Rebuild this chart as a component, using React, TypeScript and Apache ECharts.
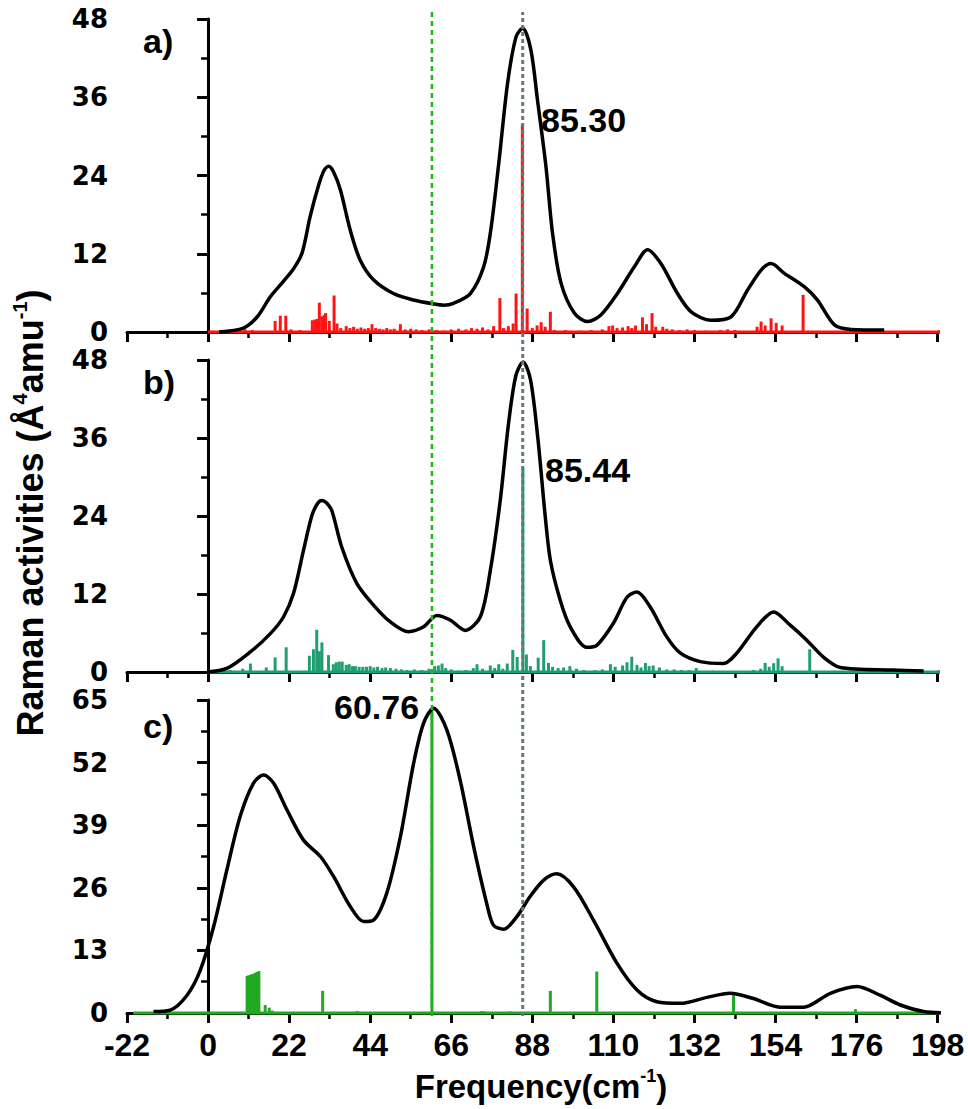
import React, { useEffect, useRef } from "react";
import * as echarts from "echarts";

// ---------- axis definitions ----------
const xMin = -22;
const xMax = 198;
const xInterval = 22;
const axisEndX = 202.8;
const yMaxA = 48;
const yMaxB = 48;
const yMaxC = 65;
const yIntervalAB = 12;
const yIntervalC = 13;

// ---------- panel a ----------
const curveAX = [3, 9.6, 13.3, 16.9, 20.5, 23.2, 25.5, 27.7, 30, 31.5, 32.7, 34, 35.9, 38.6, 41.3, 44.9, 50.3, 55.8, 61.2, 64, 66.6, 71.2, 74.8, 76.7, 79, 81.3, 83.6, 85.4, 87.6, 89.4, 91.7, 93.5, 95.8, 99.4, 103, 106.6, 111.1, 115.7, 119.3, 122.9, 127.4, 131.1, 136.5, 141.9, 146.4, 150.1, 152.8, 156.4, 161.8, 165.4, 170, 174.5, 183.5];
const curveAY = [0, 0.6, 2.3, 5.4, 7.8, 9.7, 12.1, 17.7, 22.5, 24.8, 25.4, 24.6, 21.8, 15.6, 11, 8, 5.9, 4.9, 4.3, 4.1, 4.4, 5.9, 10, 15.5, 26.4, 38.2, 45.3, 46.6, 43.3, 35.6, 25.4, 15.1, 7.5, 2.9, 1.6, 2.6, 5.9, 10, 12.6, 10.5, 5.9, 3.1, 1.8, 2.3, 6.4, 9.5, 10.5, 9, 6.95, 4.9, 1.1, 0.4, 0.3];
const stickAX = [1.5, 4, 7, 10, 12, 18.2, 19.6, 21.1, 22.5, 25, 28.3, 29, 29.6, 30.2, 30.9, 31.5, 31.9, 32.9, 34.2, 35, 36, 37.5, 38.5, 39.5, 40.5, 41.5, 42.5, 43.5, 44.5, 45.5, 46.5, 47.5, 48.5, 49.5, 50.5, 52.2, 53.5, 55, 56.5, 58, 60, 62, 64, 66, 68, 70, 71.5, 73, 74.5, 76, 77.5, 79.2, 80.2, 81.5, 82.8, 83.6, 85.3, 86.6, 88, 89.3, 90.4, 91.5, 92.9, 94, 97, 101, 104, 107, 108.8, 109.8, 111, 112.5, 114, 115, 116, 117.9, 119, 120.5, 121.5, 123.4, 124.5, 126, 128, 130, 132, 135, 139, 141, 143, 149, 150.1, 151.2, 152.8, 154.2, 155.8, 161.5];
const stickAY = [0.2, 0.3, 0.3, 0.4, 0.3, 1.7, 2.5, 2.5, 0.4, 0.3, 1.8, 1.9, 2.0, 4.5, 2.4, 2.6, 2.9, 1.7, 5.6, 1.3, 0.6, 0.9, 0.6, 0.8, 0.5, 0.7, 0.5, 0.6, 1.2, 0.6, 0.5, 0.4, 0.6, 0.4, 0.5, 1.2, 0.4, 0.5, 0.4, 0.3, 0.4, 0.3, 0.2, 0.4, 0.5, 0.4, 0.6, 0.5, 0.7, 0.4, 0.9, 5.2, 0.6, 0.9, 1.3, 5.9, 31.8, 3.6, 0.6, 1.0, 1.5, 0.8, 3.1, 0.3, 0.3, 0.2, 0.3, 0.4, 0.9, 1.0, 0.6, 0.7, 0.9, 0.6, 1.0, 2.25, 1.2, 2.9, 0.8, 0.8, 0.5, 0.4, 0.3, 0.4, 0.3, 0.2, 0.3, 0.4, 0.3, 0.8, 1.6, 1.0, 2.1, 1.4, 1.0, 5.7];

// ---------- panel b ----------
const curveBX = [-0.3, 5.1, 11.5, 16.9, 20.5, 23.2, 25.9, 28.2, 29.8, 30.9, 32.2, 33.6, 36.3, 40.4, 44.9, 49.5, 54.4, 58.5, 62.1, 65.7, 69.8, 73.9, 76.6, 79.3, 81.5, 83.5, 85.5, 87.5, 89.5, 91.5, 92.9, 95.6, 98.3, 102.8, 105.5, 110, 113.7, 116.4, 120, 124.5, 128.2, 133.6, 139.9, 143.5, 148.9, 153.5, 158, 162.5, 167, 171.6, 186, 194.2];
const curveBY = [0, 0.55, 3.1, 5.9, 8.5, 12.1, 18.7, 24.1, 26, 26.4, 26, 24.8, 19.2, 13.6, 10.3, 7.7, 6.2, 6.95, 8.7, 8, 6.4, 8.5, 15.6, 26.4, 38, 45.5, 47.7, 45, 36, 24, 17.2, 11, 6.95, 3.8, 4.1, 7.5, 11.5, 12.3, 10, 5.4, 2.9, 1.6, 1.3, 2.9, 6.95, 9.25, 7.2, 4.9, 2.3, 0.7, 0.3, 0.15];
const stickBX = [3, 6, 9.4, 11.5, 15.8, 18.2, 21.2, 27.5, 28.6, 29.5, 30.2, 30.9, 32.7, 34, 34.8, 35.6, 36.4, 37.5, 38.3, 39.2, 40, 41, 42, 43, 44, 45, 46, 47.2, 48.2, 49.5, 51, 52.5, 54, 56, 58, 60, 61.5, 62.5, 63.5, 64.5, 66, 68, 70, 72, 73, 74.5, 76.6, 77.8, 78.9, 80, 81.2, 82.7, 83.9, 85.44, 86.4, 87.5, 89.6, 91.1, 92.4, 93.5, 95, 96.5, 98.2, 100, 102, 105, 107, 109.2, 110.5, 112.5, 113.7, 115, 116.4, 117.5, 118.7, 119.7, 120.8, 122.5, 124.5, 126.5, 128.5, 130.5, 132.5, 137, 148, 150, 151.2, 152.3, 153.5, 154.7, 155.8, 163.3, 170, 177];
const stickBY = [0.2, 0.3, 0.5, 1.3, 0.7, 2.25, 3.8, 2.5, 3.5, 6.5, 3.2, 4.55, 2.6, 1.2, 1.5, 1.6, 1.6, 1.1, 1.2, 0.9, 0.9, 0.8, 0.8, 0.8, 0.9, 0.7, 0.8, 0.6, 0.7, 0.6, 0.5, 0.4, 0.3, 0.4, 0.3, 0.5, 0.9, 1.0, 1.3, 0.6, 0.4, 0.2, 0.3, 0.6, 1.2, 0.5, 1.0, 0.6, 1.2, 0.5, 1.3, 3.4, 2.3, 31.4, 2.7, 0.9, 2.2, 4.9, 1.4, 0.8, 0.6, 0.7, 0.9, 0.5, 0.3, 0.3, 0.4, 1.2, 0.8, 1.0, 1.5, 2.35, 1.1, 0.7, 1.4, 0.9, 1.0, 0.7, 0.4, 0.4, 0.3, 0.3, 0.6, 0.2, 0.3, 0.5, 1.4, 0.8, 1.35, 2.1, 0.9, 3.5, 0.2, 0.3];

// ---------- panel c ----------
const curveCX = [-14.8, -10.3, -5.7, -2.1, 1.5, 5.1, 8.7, 12.3, 15.1, 17.8, 21.4, 25.9, 30.5, 34.1, 38.6, 42.2, 44.9, 48.5, 52.2, 55.8, 58.5, 61.2, 64.8, 68.4, 72.1, 75.7, 77.5, 80.2, 83.8, 87.4, 91.1, 94.6, 99.2, 104.6, 111, 116.4, 121.8, 128.2, 135.4, 141.7, 148, 155.2, 161.6, 168.9, 176.1, 182.4, 187.9, 194.2, 200.5];
const curveCY = [0.3, 0.6, 3.7, 8.9, 17.9, 29.7, 40.8, 47.7, 49.4, 47.7, 42.2, 35.9, 32.5, 28.3, 22.1, 19, 19.3, 24.9, 36.6, 51.9, 60.2, 63.3, 58.8, 48.4, 34.5, 22.5, 18.2, 17.4, 20, 24.2, 27.6, 28.9, 26.2, 19.3, 10.3, 4.8, 2.35, 2, 3.25, 4.1, 3, 1.2, 1.2, 4.1, 5.5, 3.7, 1.66, 0.3, 0];
const stickCX = [10.6, 11.0, 11.4, 11.8, 12.2, 12.6, 13.0, 13.4, 13.8, 15.5, 16.6, 17.4, 31.1, 40.5, 60.76, 74.3, 75, 82, 92.9, 105.5, 142.6, 175.7];
const stickCY = [7.7, 7.8, 7.9, 8.0, 8.1, 8.2, 8.4, 8.5, 8.7, 1.66, 1.1, 0.5, 4.6, 0.4, 63, 0.4, 0.3, 0.3, 4.6, 8.6, 3.7, 0.8];

// ---------- reference lines & labels ----------
const refGreenX = 60.76;
const refGrayX = 85.4;
const baseStartAB = 0;
const baseStartC = -20.3;
const baseEnd = 202;
const peakLabelA = "85.30";
const peakLabelB = "85.44";
const peakLabelC = "60.76";

const zip = (xs: number[], ys: number[]) => xs.map((x, i) => [x, ys[i]]);

const GRID_LEFT = 127;
const GRID_WIDTH = 810.6;
const PANELS = [
  { top: 19, height: 313 },
  { top: 360, height: 312 },
  { top: 700, height: 313 },
];

const ARIAL = "'Liberation Sans', Arial, sans-serif";

function makeXAxis(i: number, showLabels: boolean) {
  return {
    type: "value",
    gridIndex: i,
    min: xMin,
    max: xMax,
    interval: xInterval,
    axisLine: { show: true, onZero: false, lineStyle: { color: "#000", width: 3 } },
    axisTick: { show: true, inside: false, length: 10, lineStyle: { color: "#000", width: 3 } },
    minorTick: { show: true, splitNumber: 2, length: 6, lineStyle: { color: "#000", width: 2.5 } },
    splitLine: { show: false },
    minorSplitLine: { show: false },
    axisLabel: {
      show: showLabels,
      margin: 16,
      color: "#000",
      fontFamily: ARIAL,
      fontWeight: "bold",
      fontSize: 32,
      showMinLabel: true,
      showMaxLabel: true,
    },
  };
}

function makeYAxis(i: number, max: number, interval: number) {
  return {
    type: "value",
    gridIndex: i,
    min: 0,
    max,
    interval,
    axisLine: { show: true, lineStyle: { color: "#000", width: 3 } },
    axisTick: { show: true, inside: false, length: 11, lineStyle: { color: "#000", width: 3 } },
    minorTick: { show: true, splitNumber: 2, length: 7, lineStyle: { color: "#000", width: 2.5 } },
    splitLine: { show: false },
    axisLabel: {
      margin: 19,
      color: "#000",
      fontFamily: "'DejaVu Sans', sans-serif",
      fontWeight: "bold",
      fontSize: 26,
      lineHeight: 22,
      showMinLabel: true,
      showMaxLabel: true,
    },
  };
}

function panelSeries(i: number, cx: number[], cy: number[], sx: number[], sy: number[], color: string, baseStart: number) {
  return [
    {
      type: "line",
      xAxisIndex: i,
      yAxisIndex: i,
      data: [[xMax, 0], [axisEndX, 0]],
      symbol: "none",
      clip: false,
      lineStyle: { color: "#000", width: 3 },
      z: 1,
      silent: true,
    },
    {
      type: "line",
      xAxisIndex: i,
      yAxisIndex: i,
      data: [[baseStart, 0], [baseEnd, 0]],
      symbol: "none",
      clip: false,
      lineStyle: { color, width: 3 },
      z: 2,
      silent: true,
    },
    {
      type: "bar",
      xAxisIndex: i,
      yAxisIndex: i,
      data: zip(sx, sy),
      barWidth: 3,
      itemStyle: { color },
      z: 3,
      silent: true,
    },
    {
      type: "line",
      xAxisIndex: i,
      yAxisIndex: i,
      data: zip(cx, cy),
      symbol: "none",
      smooth: 0.3,
      clip: false,
      lineStyle: { color: "#000", width: 3.5 },
      z: 4,
      silent: true,
    },
  ];
}

function textEl(text: string, x: number, y: number, size: number, align = "left") {
  return {
    type: "text",
    x,
    y,
    z: 100,
    style: {
      text,
      font: `bold ${size}px ${ARIAL}`,
      fill: "#000",
      textAlign: align,
      align,
      textVerticalAlign: "middle",
      verticalAlign: "middle",
    },
  };
}

export default function App() {
  const ref = useRef<HTMLDivElement>(null);

  useEffect(() => {
    document.body.style.margin = "0";
    if (!ref.current) return;
    const chart = echarts.init(ref.current, null, { renderer: "svg" });

    const grids: any[] = PANELS.map((p) => ({ left: GRID_LEFT, top: p.top, width: GRID_WIDTH, height: p.height }));
    grids.push({ left: GRID_LEFT, top: 12, width: GRID_WIDTH, height: 1004 });

    const option: any = {
      animation: false,
      backgroundColor: "#fff",
      grid: grids,
      xAxis: [
        makeXAxis(0, false),
        makeXAxis(1, false),
        makeXAxis(2, true),
        { type: "value", gridIndex: 3, min: xMin, max: xMax, show: false },
      ],
      yAxis: [
        makeYAxis(0, yMaxA, yIntervalAB),
        makeYAxis(1, yMaxB, yIntervalAB),
        makeYAxis(2, yMaxC, yIntervalC),
        { type: "value", gridIndex: 3, min: 0, max: 1, show: false },
      ],
      series: [
        ...panelSeries(0, curveAX, curveAY, stickAX, stickAY, "#ff1414", baseStartAB),
        ...panelSeries(1, curveBX, curveBY, stickBX, stickBY, "#1f9e70", baseStartAB),
        ...panelSeries(2, curveCX, curveCY, stickCX, stickCY, "#22a822", baseStartC),
        {
          type: "line",
          xAxisIndex: 3,
          yAxisIndex: 3,
          data: [[refGreenX, 0], [refGreenX, 1]],
          symbol: "none",
          lineStyle: { color: "#1cb81c", width: 2.5, type: [5, 4] },
          z: 10,
          silent: true,
        },
        {
          type: "line",
          xAxisIndex: 3,
          yAxisIndex: 3,
          data: [[refGrayX, 0], [refGrayX, 1]],
          symbol: "none",
          lineStyle: { color: "#66777e", width: 3, type: [4, 3] },
          z: 10,
          silent: true,
        },
      ],
      graphic: [
        textEl("a)", 143, 41, 34),
        textEl("b)", 143, 382, 34),
        textEl("c)", 143, 726, 34),
        textEl(peakLabelA, 541, 120, 34),
        textEl(peakLabelB, 545, 470, 34),
        textEl(peakLabelC, 334, 707, 34),
        {
          type: "text",
          x: 30,
          y: 513,
          rotation: Math.PI / 2,
          z: 100,
          style: {
            text: "{n|Raman activities (Å}{s|4}{n|amu}{s|-1}{n|)}",
            textAlign: "center",
            align: "center",
            textVerticalAlign: "middle",
            verticalAlign: "middle",
            fill: "#000",
            rich: {
              n: { fontSize: 36, fontWeight: "bold", fontFamily: ARIAL, fill: "#000", lineHeight: 40 },
              s: { fontSize: 20, fontWeight: "bold", fontFamily: ARIAL, fill: "#000", verticalAlign: "top", lineHeight: 20 },
            },
          },
        },
        {
          type: "text",
          x: 541,
          y: 1086,
          z: 100,
          style: {
            text: "{n|Frequency(cm}{s|-1}{n|)}",
            textAlign: "center",
            align: "center",
            textVerticalAlign: "middle",
            verticalAlign: "middle",
            fill: "#000",
            rich: {
              n: { fontSize: 33, fontWeight: "bold", fontFamily: ARIAL, fill: "#000", lineHeight: 38 },
              s: { fontSize: 18, fontWeight: "bold", fontFamily: ARIAL, fill: "#000", verticalAlign: "top", lineHeight: 18 },
            },
          },
        },
      ],
    };

    chart.setOption(option);
    return () => chart.dispose();
  }, []);

  return <div ref={ref} style={{ width: 968, height: 1109, background: "#fff" }} />;
}
